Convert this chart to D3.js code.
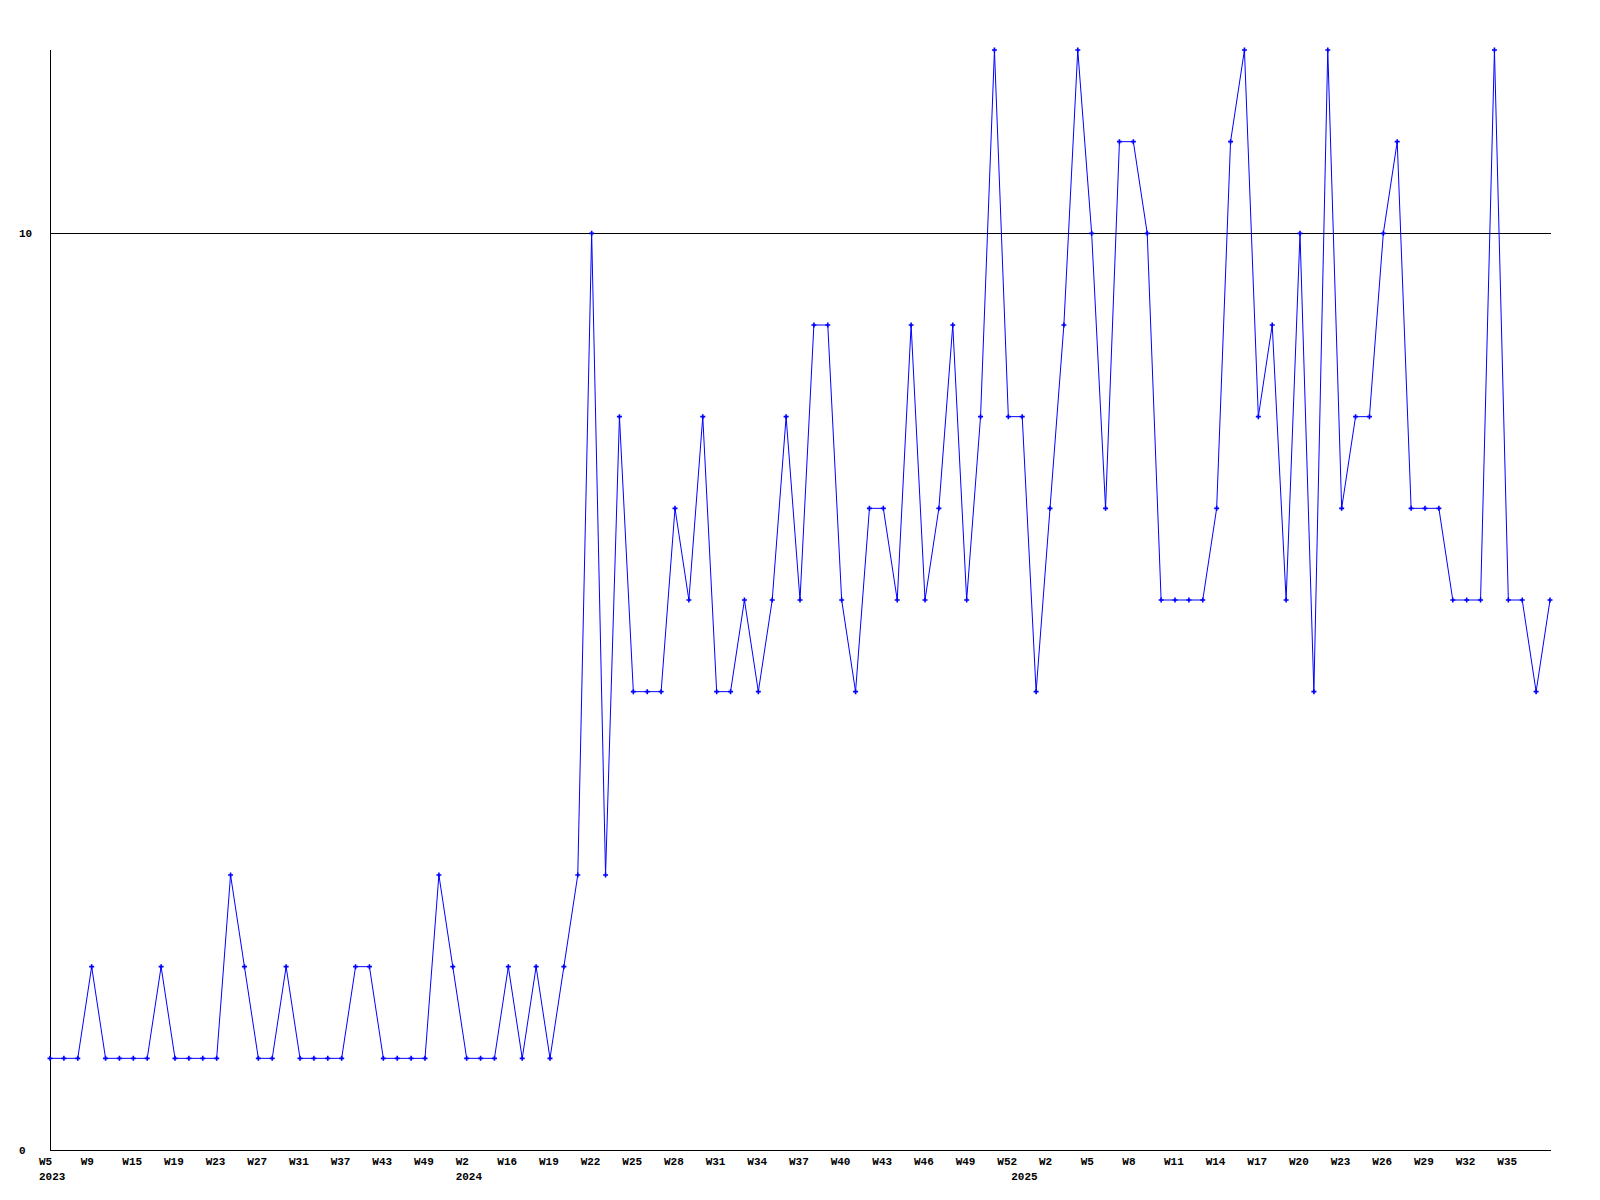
<!DOCTYPE html>
<html>
<head>
<meta charset="utf-8">
<script src="https://cdn.jsdelivr.net/npm/d3@7"></script>
<style>
  html, body { margin: 0; padding: 0; background: #ffffff; }
  svg { display: block; }
  text { font-family: "Liberation Mono", "DejaVu Sans Mono", monospace; font-weight: bold; font-size: 11px; fill: #000; }
</style>
</head>
<body>
<svg id="chart" width="1600" height="1200"></svg>
<script>
// ---- data ----
const weeks = [
  "W5","W6","W7","W9","W10","W12","W15","W16","W17","W19",
  "W20","W21","W23","W24","W25","W27","W28","W29","W31","W33",
  "W35","W37","W39","W40","W43","W45","W47","W49","W50","W51",
  "W2","W6","W11","W16","W17","W18","W19","W20","W21","W22",
  "W23","W24","W25","W26","W27","W28","W29","W30","W31","W32",
  "W33","W34","W35","W36","W37","W38","W39","W40","W41","W42",
  "W43","W44","W45","W46","W47","W48","W49","W50","W51","W52",
  "W0","W1","W2","W3","W4","W5","W6","W7","W8","W9",
  "W10","W11","W12","W13","W14","W15","W16","W17","W18","W19",
  "W20","W21","W22","W23","W24","W25","W26","W27","W28","W29",
  "W30","W31","W32","W33","W34","W35","W36","W37","W38"
];
const values = [
  1,1,1,2,1,1,1,1,2,1,
  1,1,1,3,2,1,1,2,1,1,
  1,1,2,2,1,1,1,1,3,2,
  1,1,1,2,1,2,1,2,3,10,
  3,8,5,5,5,7,6,8,5,5,
  6,5,6,8,6,9,9,6,5,7,
  7,6,9,6,7,9,6,8,12,8,
  8,5,7,9,12,10,7,11,11,10,
  6,6,6,6,7,11,12,8,9,6,
  10,5,12,7,8,8,10,11,7,7,
  7,6,6,6,12,6,6,5,6
];
const yearLabels = ["2023", "2024", "2025"];
const yearStartIndex = [0, 30, 70];
const yTickValues = [0, 10];
const yMax = 12;
const labelEvery = 3;

// ---- layout ----
const mLeft = 50, mRight = 1550, mTop = 50, mBottom = 1150;
const svg = d3.select("#chart");

const x = d3.scaleLinear().domain([0, values.length - 1]).range([mLeft, mRight]);
const y = d3.scaleLinear().domain([0, yMax]).range([mBottom, mTop]);

// gridline at 10 (non-zero ticks)
svg.append("g").selectAll("line")
  .data(yTickValues.filter(v => v !== 0))
  .join("line")
  .attr("x1", mLeft).attr("x2", mRight + 1)
  .attr("y1", d => Math.round(y(d)) + 0.5).attr("y2", d => Math.round(y(d)) + 0.5)
  .attr("stroke", "#000").attr("stroke-width", 1)
  .attr("shape-rendering", "crispEdges");

// axes lines
svg.append("line")
  .attr("x1", mLeft + 0.5).attr("x2", mLeft + 0.5)
  .attr("y1", mTop).attr("y2", mBottom + 1)
  .attr("stroke", "#000").attr("shape-rendering", "crispEdges");
svg.append("line")
  .attr("x1", mLeft).attr("x2", mRight + 1)
  .attr("y1", mBottom + 0.5).attr("y2", mBottom + 0.5)
  .attr("stroke", "#000").attr("shape-rendering", "crispEdges");

// y labels
svg.append("g").selectAll("text")
  .data(yTickValues)
  .join("text")
  .attr("x", 19)
  .attr("y", d => y(d) + 4)
  .text(d => d);

// x week labels (only those that fit inside the plot width)
const charW = 6.6;
svg.append("g").selectAll("text")
  .data(weeks.map((w, i) => ({ w, i }))
    .filter(d => d.i % labelEvery === 0 && x(d.i) - 11 + d.w.length * charW <= mRight))
  .join("text")
  .attr("x", d => x(d.i) - 11)
  .attr("y", 1165)
  .text(d => d.w);

// year labels
svg.append("g").selectAll("text")
  .data(yearLabels.map((t, k) => ({ t, i: yearStartIndex[k] })))
  .join("text")
  .attr("x", d => x(d.i) - 11)
  .attr("y", 1180)
  .text(d => d.t);

// line
const line = d3.line().x((d, i) => x(i)).y(d => y(d));
svg.append("path")
  .datum(values)
  .attr("d", line)
  .attr("fill", "none")
  .attr("stroke", "#0000ff")
  .attr("stroke-width", 1);

// markers
svg.append("g").selectAll("path")
  .data(values)
  .join("path")
  .attr("transform", (d, i) => `translate(${x(i)},${y(d)})`)
  .attr("d", "M-2.5,0H2.5M0,-2.5V2.5")
  .attr("stroke", "#0000ff")
  .attr("stroke-width", 1.6)
  .attr("fill", "none");
</script>
</body>
</html>
